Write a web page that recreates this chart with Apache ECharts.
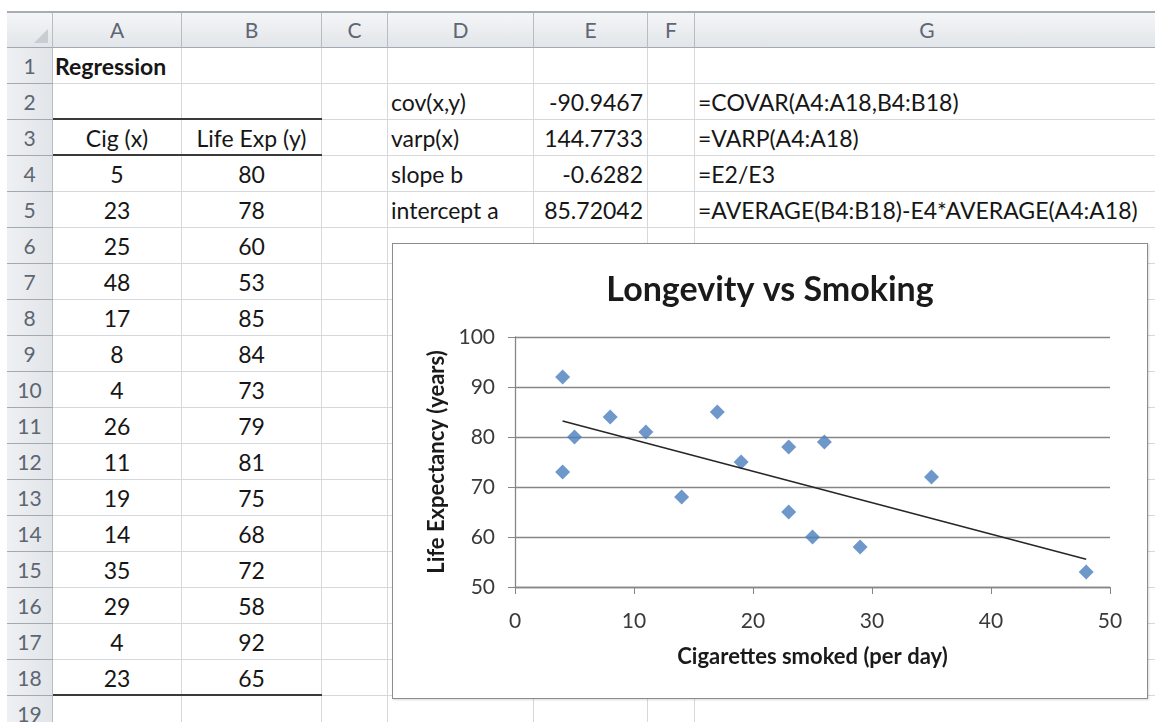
<!DOCTYPE html>
<html>
<head>
<meta charset="utf-8">
<script src="https://cdn.jsdelivr.net/npm/echarts@6/dist/echarts.min.js"></script>
<style>
body{margin:0;width:1155px;height:722px;overflow:hidden;background:#fff;font-family:Lato,"Open Sans",sans-serif;}
#sheet{position:absolute;left:0;top:0;width:1155px;height:722px;}
.c{position:absolute;box-sizing:border-box;border-right:1px solid #d6d8db;border-bottom:1px solid #d6d8db;font-size:23px;line-height:36px;white-space:nowrap;color:#161616;padding:0 4px;}
.h{background:linear-gradient(#f5f6f8,#e2e5e9);color:#5d6672;text-align:center;font-size:21px;border-right:1px solid #b8bdc5;border-bottom:1px solid #a3a9b1;}
.rh{background:linear-gradient(90deg,#eef0f3,#e2e5e9);}
.thick{position:absolute;height:2px;background:#3a3a3a;}
#chart{position:absolute;left:392px;top:243px;width:756px;height:456px;border:1px solid #8c8c8c;box-sizing:border-box;background:#fff;box-shadow:1px 1px 2px rgba(0,0,0,0.15);}
</style>
</head>
<body>
<div id="sheet"></div>
<div id="chart"></div>
<script>
// data from the sheet
var columnLetters = ['A', 'B', 'C', 'D', 'E', 'F', 'G'];
var cigarettes = [5, 23, 25, 48, 17, 8, 4, 26, 11, 19, 14, 35, 29, 4, 23];
var lifeExp = [80, 78, 60, 53, 85, 84, 73, 79, 81, 75, 68, 72, 58, 92, 65];
var statLabels = ['cov(x,y)', 'varp(x)', 'slope b', 'intercept a'];
var statValues = ['-90.9467', '144.7733', '-0.6282', '85.72042'];
var statFormulas = ['=COVAR(A4:A18,B4:B18)', '=VARP(A4:A18)', '=E2/E3', '=AVERAGE(B4:B18)-E4*AVERAGE(A4:A18)'];
var xTicks = [0, 10, 20, 30, 40, 50];
var yTicks = [50, 60, 70, 80, 90, 100];

// sheet geometry
var colEdges = [7, 53, 182, 322, 388, 534, 648, 695, 1160];
var headTop = 12, headH = 36, rowH = 36, rowCount = 19;

var sheet = document.getElementById('sheet');
function cell(x0, x1, y0, h, text, cls, align, bold){
    var d = document.createElement('div');
    d.className = 'c' + (cls ? ' ' + cls : '');
    d.style.left = x0 + 'px';
    d.style.top = y0 + 'px';
    d.style.width = (x1 - x0) + 'px';
    d.style.height = h + 'px';
    if(align) d.style.textAlign = align;
    if(bold) d.style.fontWeight = 'bold';
    if(text !== undefined && text !== null) d.textContent = text;
    sheet.appendChild(d);
    return d;
}

// header row
var corner = cell(colEdges[0], colEdges[1], headTop, headH, '', 'h');
corner.innerHTML = '<div style="position:absolute;right:4px;bottom:4px;width:0;height:0;border-left:14px solid transparent;border-bottom:14px solid #c9ccd1;"></div>';
for(var i = 0; i < columnLetters.length; i++){
    cell(colEdges[i + 1], colEdges[i + 2], headTop, headH, columnLetters[i], 'h', 'center');
}
var topLine = document.createElement('div');
topLine.style.cssText = 'position:absolute;left:7px;top:11px;width:1150px;height:2px;background:#a9adb3;';
sheet.appendChild(topLine);

// body rows
var contents = {};
function put(r, c, text, align, bold){ contents[r + '_' + c] = {t: text, a: align, b: bold}; }
put(1, 0, 'Regression', 'left', true);
put(3, 0, 'Cig (x)', 'center');
put(3, 1, 'Life Exp (y)', 'center');
for(var k = 0; k < cigarettes.length; k++){
    put(4 + k, 0, String(cigarettes[k]), 'center');
    put(4 + k, 1, String(lifeExp[k]), 'center');
}
for(var s = 0; s < statLabels.length; s++){
    put(2 + s, 3, statLabels[s], 'left');
    put(2 + s, 4, statValues[s], 'right');
    put(2 + s, 6, statFormulas[s], 'left');
}
for(var r = 1; r <= rowCount; r++){
    var y0 = headTop + headH + (r - 1) * rowH;
    cell(colEdges[0], colEdges[1], y0, rowH, String(r), 'h rh', 'center');
    for(var c = 0; c < columnLetters.length; c++){
        var ct = contents[r + '_' + c];
        var d = cell(colEdges[c + 1], colEdges[c + 2], y0, rowH, ct ? ct.t : '', '', ct ? ct.a : null, ct && ct.b);
        if(ct && ct.a === 'left') d.style.paddingLeft = (c === 0 ? 2 : 3) + 'px';
    }
}
[2, 3, 18].forEach(function(r){
    var l = document.createElement('div');
    l.className = 'thick';
    l.style.left = colEdges[1] + 'px';
    l.style.width = (colEdges[3] - colEdges[1]) + 'px';
    l.style.top = (headTop + headH + r * rowH - 2) + 'px';
    sheet.appendChild(l);
});

// chart
var points = cigarettes.map(function(x, i){ return [x, lifeExp[i]]; });
var slope = parseFloat(statValues[2]);
var intercept = parseFloat(statValues[3]);
var xMin = Math.min.apply(null, cigarettes), xMax = Math.max.apply(null, cigarettes);
var trend = [[xMin, intercept + slope * xMin], [xMax, intercept + slope * xMax]];

var axisGray = '#868686';
var chart = echarts.init(document.getElementById('chart'));
chart.setOption({
    animation: false,
    backgroundColor: '#fff',
    title: {
        text: 'Longevity vs Smoking',
        left: 'center',
        top: 24,
        textStyle: {fontFamily: 'Lato', fontSize: 34, fontWeight: 'bold', color: '#1a1a1a'}
    },
    grid: {left: 122, right: 37, top: 93, bottom: 111},
    xAxis: {
        type: 'value',
        min: xTicks[0],
        max: xTicks[xTicks.length - 1],
        interval: xTicks[1] - xTicks[0],
        name: 'Cigarettes smoked (per day)',
        nameLocation: 'middle',
        nameGap: 59,
        nameTextStyle: {fontFamily: 'Lato', fontSize: 22, fontWeight: 'bold', color: '#1a1a1a'},
        axisLine: {show: true, lineStyle: {color: axisGray, width: 1.3}},
        axisTick: {show: true, length: 7, lineStyle: {color: axisGray}},
        axisLabel: {fontFamily: 'Lato', fontSize: 21, color: '#3a3a3a', margin: 24},
        splitLine: {show: false}
    },
    yAxis: {
        type: 'value',
        min: yTicks[0],
        max: yTicks[yTicks.length - 1],
        interval: yTicks[1] - yTicks[0],
        name: 'Life Expectancy (years)',
        nameLocation: 'middle',
        nameGap: 64,
        nameTextStyle: {fontFamily: 'Lato', fontSize: 22, fontWeight: 'bold', color: '#1a1a1a'},
        axisLine: {show: true, lineStyle: {color: axisGray, width: 1.3}},
        axisTick: {show: true, length: 7, lineStyle: {color: axisGray}},
        axisLabel: {fontFamily: 'Lato', fontSize: 21, color: '#3a3a3a', margin: 20},
        splitLine: {show: true, lineStyle: {color: axisGray, width: 1.3}}
    },
    series: [
        {
            type: 'scatter',
            data: points,
            symbol: 'diamond',
            symbolSize: 15,
            itemStyle: {color: '#4a7ebb'},
            z: 2
        },
        {
            type: 'line',
            data: trend,
            showSymbol: false,
            lineStyle: {color: '#262626', width: 1.5},
            z: 3
        }
    ]
});
</script>
</body>
</html>
